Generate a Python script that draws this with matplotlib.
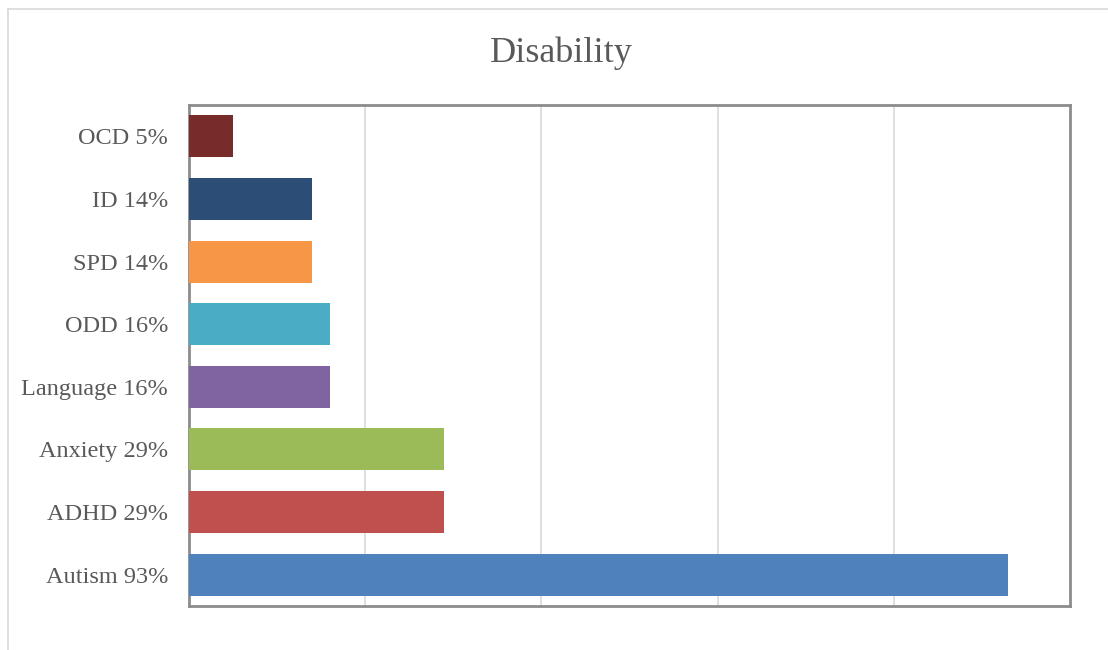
import numpy as np
import matplotlib.pyplot as plt
from matplotlib.lines import Line2D

# data (bottom to top)
categories = ['Autism', 'ADHD', 'Anxiety', 'Language', 'ODD', 'SPD', 'ID', 'OCD']
values = [93, 29, 29, 16, 16, 14, 14, 5]
colors = ['#4F81BD', '#C0504D', '#9BBB59', '#8064A2', '#4BACC6', '#F79646', '#2C4D75', '#772C2A']
labels = [f'{c} {v}%' for c, v in zip(categories, values)]

plt.rcParams['font.family'] = ['Liberation Serif', 'DejaVu Serif']

fig = plt.figure(figsize=(11.08, 6.5), dpi=100)
ax = fig.add_axes([189 / 1108, 44 / 650, 881 / 1108, 501 / 650])

y = np.arange(len(categories))
ax.barh(y, values, height=0.67, color=colors, zorder=3)

ax.set_xlim(0, 100)
ax.set_ylim(-0.5, len(categories) - 0.5)
ax.set_xticks([20, 40, 60, 80])
ax.set_xticklabels([])
ax.tick_params(axis='x', length=0)
ax.grid(axis='x', color='#d9d9d9', linewidth=1.2, zorder=0)
ax.set_yticks(y)
ax.set_yticklabels(labels, fontsize=17.5, color='#595959')
ax.tick_params(axis='y', length=0, pad=15)
for s in ax.spines.values():
    s.set_color('#8c8c8c')
    s.set_linewidth(2)

fig.text(561 / 1108, 1 - 53 / 650, 'Disability', ha='center', va='center',
         fontsize=26, color='#595959')

# outer chart frame (top and left edges visible)
fig.add_artist(Line2D([8 / 1108, 1], [1 - 9 / 650, 1 - 9 / 650], transform=fig.transFigure,
                      color='#d9d9d9', linewidth=1.2))
fig.add_artist(Line2D([8 / 1108, 8 / 1108], [0, 1 - 9 / 650], transform=fig.transFigure,
                      color='#d9d9d9', linewidth=1.2))

fig.savefig('out.png', dpi=100)
